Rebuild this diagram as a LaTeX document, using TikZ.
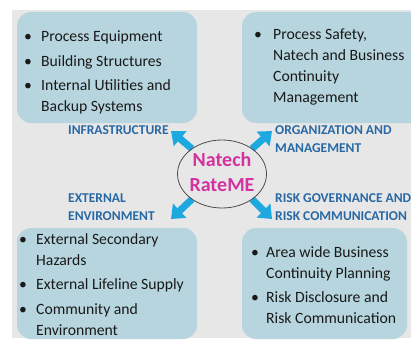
\documentclass[tikz,border=0pt]{standalone}
\usepackage{fontspec}
\setmainfont{Carlito}
\usetikzlibrary{arrows.meta,shapes.geometric}
\definecolor{bgc}{RGB}{231,231,231}
\definecolor{boxc}{RGB}{183,213,222}
\definecolor{labc}{RGB}{40,104,165}
\definecolor{arrc}{RGB}{30,168,224}
\definecolor{magc}{RGB}{212,50,158}
\definecolor{txtc}{RGB}{25,25,25}
\newcommand\bl[2]{\makebox[#1][l]{\textbullet}#2}
\tikzset{
  boxnode/.style={fill=boxc, draw=none, rounded corners=14pt, minimum height=111pt},
  bodytext/.style={inner sep=0pt, anchor=base west, text=txtc, font=\fontsize{15.7}{21}\selectfont},
  labtext/.style={inner sep=0pt, anchor=base west, text=labc, font=\fontsize{13.5}{18}\selectfont\bfseries},
  bigarrow/.style={draw=arrc, line width=7pt, -{Triangle[length=12pt,width=19pt]}},
}
\begin{document}
\begin{tikzpicture}[x=1pt,y=-1pt]
\useasboundingbox (0,0) rectangle (411,342);
\clip (0,0) rectangle (411,342);
\fill[white] (0,0) rectangle (411,342);
\fill[bgc] (12,10) rectangle (411,338);

% boxes
\node[boxnode, minimum width=180pt] (tlbox) at (107,67.5) {};
\node[boxnode, minimum width=183pt] (trbox) at (333.5,67.5) {};
\node[boxnode, minimum width=180pt] (blbox) at (107,283.5) {};
\node[boxnode, minimum width=165pt] (brbox) at (324.5,283.5) {};

% box texts
\node[bodytext] (tltext) at (24,42) {\begin{tabular}[t]{@{}l@{}}
\bl{17pt}{Process Equipment}\\[3.5pt]
\bl{17pt}{Building Structures}\\[3.5pt]
\bl{17pt}{Internal Utilities and}\\
\hspace{17pt}Backup Systems\end{tabular}};
\node[bodytext] (trtext) at (254,40) {\begin{tabular}[t]{@{}l@{}}
\bl{19pt}{Process Safety,}\\
\hspace{19pt}Natech and Business\\
\hspace{19pt}Continuity\\
\hspace{19pt}Management\end{tabular}};
\node[bodytext] (bltext) at (19,244) {\begin{tabular}[t]{@{}l@{}}
\bl{17pt}{External Secondary}\\
\hspace{17pt}Hazards\\[3.5pt]
\bl{17pt}{External Lifeline Supply}\\[3.5pt]
\bl{17pt}{Community and}\\
\hspace{17pt}Environment\end{tabular}};
\node[bodytext] (brtext) at (251,257) {\begin{tabular}[t]{@{}l@{}}
\bl{15pt}{Area wide Business}\\
\hspace{15pt}Continuity Planning\\[3pt]
\bl{15pt}{Risk Disclosure and}\\
\hspace{15pt}Risk Communication\end{tabular}};

% labels
\node[labtext] (infra) at (68,134.5) {INFRASTRUCTURE};
\node[labtext] (org) at (275,134.5) {\begin{tabular}[t]{@{}l@{}}ORGANIZATION AND\\MANAGEMENT\end{tabular}};
\node[labtext] (ext) at (68,202.5) {\begin{tabular}[t]{@{}l@{}}EXTERNAL\\ENVIRONMENT\end{tabular}};
\node[labtext] (risk) at (275,202.5) {\begin{tabular}[t]{@{}l@{}}RISK GOVERNANCE AND\\RISK COMMUNICATION\end{tabular}};

% centre
\node[ellipse, minimum width=89pt, minimum height=68pt, inner sep=0pt] (ell) at (222,174) {};
\coordinate (tltip) at (171,131);
\coordinate (trtip) at (272,131);
\coordinate (bltip) at (171,219);
\coordinate (brtip) at (272,219);
\draw[bigarrow] (ell.140) -- (tltip);
\draw[bigarrow] (ell.40) -- (trtip);
\draw[bigarrow] (ell.220) -- (bltip);
\draw[bigarrow] (ell.320) -- (brtip);
\draw[black!70, line width=0.8pt] (ell.center) ellipse [x radius=44.5pt, y radius=34pt];
\node[inner sep=0pt, anchor=base, text=magc, font=\fontsize{20}{25}\selectfont\bfseries] (ntext) at (222,166.5) {\begin{tabular}[t]{@{}c@{}}Natech\\RateME\end{tabular}};
\end{tikzpicture}
\end{document}
